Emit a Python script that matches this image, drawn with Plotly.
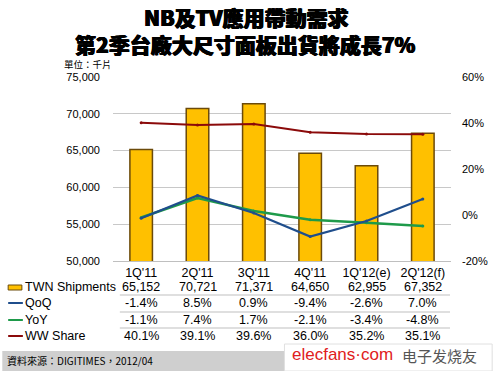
import plotly.graph_objects as go

categories = ["1Q'11", "2Q'11", "3Q'11", "4Q'11", "1Q'12(e)", "2Q'12(f)"]
shipments = [65152, 70721, 71371, 64650, 62955, 67352]
qoq = [-1.4, 8.5, 0.9, -9.4, -2.6, 7.0]
yoy = [-1.1, 7.4, 1.7, -2.1, -3.4, -4.8]
ww_share = [40.1, 39.1, 39.6, 36.0, 35.2, 35.1]

left_ticks = [50000, 55000, 60000, 65000, 70000, 75000]
right_ticks = [-20, 0, 20, 40, 60]
right_tick_labels = ["-20%", "0%", "20%", "40%", "60%"]

FONT = "Liberation Sans, Arial, sans-serif"
CJK = "Noto Sans CJK TC, Liberation Sans"
GOLD = "#FFC000"
EDGE = "#6B4A0A"
BLUE = "#1F4E8C"
GREEN = "#1E9A4A"
RED = "#8B0A0A"

fig = go.Figure()
fig.add_trace(go.Bar(x=categories, y=shipments, width=0.4,
                     marker=dict(color=GOLD, line=dict(color=EDGE, width=1.5)),
                     name="TWN Shipments", yaxis="y"))
fig.add_trace(go.Scatter(x=categories, y=ww_share, mode="lines+markers",
                         line=dict(color=RED, width=2), marker=dict(size=3, color=RED),
                         name="WW Share", yaxis="y2"))
fig.add_trace(go.Scatter(x=categories, y=yoy, mode="lines+markers",
                         line=dict(color=GREEN, width=2.5), marker=dict(size=3, color=GREEN),
                         name="YoY", yaxis="y2"))
fig.add_trace(go.Scatter(x=categories, y=qoq, mode="lines+markers",
                         line=dict(color=BLUE, width=2.2), marker=dict(size=3, color=BLUE),
                         name="QoQ", yaxis="y2"))

L, R, T, B = 113, 42, 77, 110
H = 371

def paper_y(pix):
    return (H - B - pix) / (H - T - B)

def paper_x(pix):
    return (pix - L) / (500 - L - R)

annotations = []
shapes = []
TSHADOW = "0.6px 0 0 #000, -0.6px 0 0 #000, 0 0.4px 0 #000"
# Title
annotations.append(dict(text="NB及TV應用帶動需求", x=paper_x(249), xref="paper", xanchor="center",
                        y=paper_y(17), yref="paper", yanchor="middle", showarrow=False,
                        font=dict(family=CJK, size=21, color="#000", weight=900, shadow=TSHADOW)))
annotations.append(dict(text="第2季台廠大尺寸面板出貨將成長7%", x=paper_x(248), xref="paper", xanchor="center",
                        y=paper_y(44), yref="paper", yanchor="middle", showarrow=False,
                        font=dict(family=CJK, size=21, color="#000", weight=900, shadow=TSHADOW)))
annotations.append(dict(text="單位：千片", x=paper_x(61), xref="paper", xanchor="left",
                        y=paper_y(64), yref="paper", yanchor="middle", showarrow=False,
                        font=dict(family=CJK, size=9.5, color="#000")))

# Table
rows = [("TWN Shipments", [f"{v:,}" for v in shipments], 287),
        ("QoQ", [f"{v:.1f}%" for v in qoq], 303),
        ("YoY", [f"{v:.1f}%" for v in yoy], 320),
        ("WW Share", [f"{v:.1f}%" for v in ww_share], 336)]
for label, vals, ypix in rows:
    annotations.append(dict(text=label, x=paper_x(21), xref="paper", xanchor="left",
                            y=paper_y(ypix), yref="paper", yanchor="middle", showarrow=False,
                            font=dict(family=FONT, size=12.5, color="#000")))
    for c, v in zip(categories, vals):
        annotations.append(dict(text=v, x=c, xref="x", xanchor="center",
                                y=paper_y(ypix), yref="paper", yanchor="middle", showarrow=False,
                                font=dict(family=FONT, size=12.5, color="#000")))
# row separators
for ypix in [295, 312, 328]:
    shapes.append(dict(type="line", xref="paper", yref="paper", x0=paper_x(120), x1=paper_x(457),
                       y0=paper_y(ypix), y1=paper_y(ypix), line=dict(color="#BFBFBF", width=1)))
# legend keys
shapes.append(dict(type="rect", xref="paper", yref="paper", x0=paper_x(6), x1=paper_x(20),
                   y0=paper_y(290), y1=paper_y(285), fillcolor=GOLD, line=dict(color=EDGE, width=1)))
for col, ypix in [(BLUE, 303), (GREEN, 320), (RED, 336)]:
    shapes.append(dict(type="line", xref="paper", yref="paper", x0=paper_x(6), x1=paper_x(21),
                       y0=paper_y(ypix), y1=paper_y(ypix), line=dict(color=col, width=2)))

# footer band
shapes.append(dict(type="rect", xref="paper", yref="paper", x0=paper_x(0), x1=paper_x(500),
                   y0=paper_y(371), y1=paper_y(351), fillcolor="#CFCFCF", line=dict(width=0), layer="below"))
shapes.append(dict(type="rect", xref="paper", yref="paper", x0=paper_x(288), x1=paper_x(500),
                   y0=paper_y(371), y1=paper_y(344), fillcolor="#FFFFFF", line=dict(color="#E0E0E0", width=1)))
annotations.append(dict(text="資料來源：DIGITIMES，2012/04", x=paper_x(3), xref="paper", xanchor="left",
                        y=paper_y(360), yref="paper", yanchor="middle", showarrow=False,
                        font=dict(family=CJK, size=10, color="#000")))
annotations.append(dict(text="elecfans·com", x=paper_x(294), xref="paper", xanchor="left",
                        y=paper_y(354), yref="paper", yanchor="middle", showarrow=False,
                        font=dict(family="Liberation Sans", size=17, color="#E02020")))
annotations.append(dict(text="电子发烧友", x=paper_x(406), xref="paper", xanchor="left",
                        y=paper_y(355), yref="paper", yanchor="middle", showarrow=False,
                        font=dict(family="Noto Sans CJK SC", size=15, color="#555555")))

fig.update_layout(
    width=500, height=371,
    margin=dict(l=L, r=R, t=T, b=B),
    paper_bgcolor="white", plot_bgcolor="white",
    showlegend=False, bargap=0.6,
    font=dict(family=FONT, size=11, color="#000"),
    xaxis=dict(tickfont=dict(size=12.5), showline=True, linecolor="#BFBFBF", linewidth=1,
               ticks="", showgrid=False),
    yaxis=dict(range=[50000, 75000], tickvals=left_ticks, tickformat=",", showgrid=True,
               gridcolor="#C8C8C8", gridwidth=1, zeroline=False, ticks="", tickfont=dict(size=11),
               ticklabelstandoff=12),
    yaxis2=dict(range=[-20, 60], tickvals=right_ticks, ticktext=right_tick_labels,
                overlaying="y", side="right",
                showgrid=False, zeroline=False, ticks="", tickfont=dict(size=11), ticklabelstandoff=10),
    annotations=annotations, shapes=shapes,
)
fig.write_html("out.html", config={"displayModeBar": False},
               post_script="document.body.style.margin='0';document.body.style.padding='0';")
